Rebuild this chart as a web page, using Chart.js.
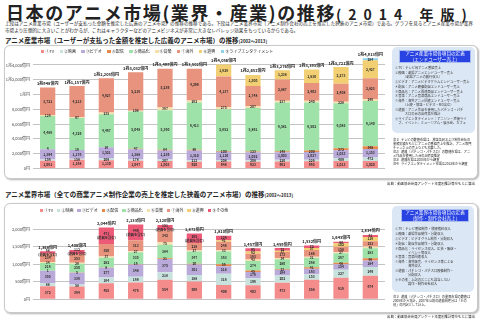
<!DOCTYPE html>
<html lang="ja">
<head>
<meta charset="utf-8">
<title>日本のアニメ市場の推移</title>
<script src="https://cdn.jsdelivr.net/npm/chart.js@4.4.1/dist/chart.umd.min.js"></script>
<style>
  body { margin:0; width:480px; height:325px; position:relative; overflow:hidden; background:#fff;
         font-family:"Noto Sans CJK JP", sans-serif; color:#222; }
  .abs { position:absolute; }
  .title { left:6px; top:2px; font-size:18px; line-height:20px; font-weight:bold; letter-spacing:1.6px; white-space:nowrap; }
  .title span { font-size:14px; letter-spacing:7px; }
  .lead { left:5px; top:20px; font-size:4.6px; line-height:6.5px; white-space:nowrap; }
  .head { left:5px; font-size:6.5px; line-height:8px; font-weight:bold; white-space:nowrap; }
  .head small { font-size:4.4px; font-weight:bold; }
  .panel { border:1px solid #c9c9c9; border-radius:6px; box-shadow:1px 1px 2px rgba(0,0,0,.3); background:#fff; }
  .legend { display:flex; font-size:4px; line-height:5px; white-space:nowrap; }
  .legend span { display:flex; align-items:center; }
  .legend i { display:inline-block; width:3.4px; height:3.4px; margin-right:1px; }
  .defs { background:#dce7f5; border-radius:5px; }
  .defs-head { background:#2843e2; color:#fff; font-size:4.6px; line-height:5.6px; text-align:center; border:1px solid #a8bbf0; }
  .defs-list { font-size:3.25px; line-height:3.9px; color:#333; white-space:nowrap; }
  .defs-list p { margin:0 0 1px 0; }
  .note { font-size:3.15px; line-height:4px; white-space:nowrap; }
  .src { font-size:3.4px; white-space:nowrap; }
</style>
</head>
<body>

<div class="abs title">日本のアニメ市場(業界・産業)の推移<span>(2014 年版)</span></div>
<div class="abs lead">上段はアニメ産業市場（ユーザーが支払った金額を推定した広義のアニメ市場）の推移の推移である。下段はアニメ業界市場（アニメ制作会社の売上を推定した狭義のアニメ市場）である。グラフを見るとアニメ産業市場が業界<br>市場より圧倒的に大きいことがわかるが、これはキャラクターなどのアニメビジネスが非常に大きなレバレッジ効果をもっているからである。</div>

<div class="abs head" style="top:35.5px">アニメ産業市場（ユーザーが支払った金額を推定した広義のアニメ市場）の推移<small>[2002〜2013]</small></div>
<div class="abs panel" style="left:4px;top:45px;width:472px;height:132px"></div>
<canvas id="sangyo" class="abs" width="385" height="132" style="left:5px;top:46px"></canvas>
<div id="legendTop" class="abs legend" style="left:41px;top:49px;gap:5.5px"></div>

<div class="abs defs" style="left:392px;top:47px;width:83px;height:86px"></div>
<div class="abs defs-head" style="left:399px;top:50px;width:70px">アニメ産業市場各項目の定義<br>（エンドユーザー売上）</div>
<div class="abs defs-list" style="left:395px;top:66px">
  <p>①TV：テレビ局アニメ番組売上</p>
  <p>②映画：劇場アニメエンドユーザー売上<br>　　　（劇場アニメの興行収入）</p>
  <p>③ビデオ：アニメビデオグラムエンドユーザー売上</p>
  <p>④配信：アニメ映像配信エンドユーザー売上</p>
  <p>⑤商品化：アニメ関連商品エンドユーザー売上</p>
  <p>⑥音楽：アニメ音楽商品エンドユーザー売上</p>
  <p>⑦海外：海外アニメ関連エンドユーザー売上<br>　　　（上映・放送・ビデオ・MD含む）</p>
  <p>⑧遊興：アニメ作品を使用したパチンコ・パチ<br>　　　スロの台の出荷高を推計</p>
  <p>⑨ライブエンタテイメント：アニソン・声優ライ<br>　ブ、イベント、ミュージアム・展示会、カフェ</p>
</div>
<div class="abs note" style="left:393px;top:138px">
  注1）テレビの数値市場は、放送各局および制作会社の<br>業務実績をもとにアニメの番組売上を推計。アニメ専門<br>チャンネルの売上なども加算した。<br>
  注2）遊興（パチンコ・パチスロ）の数値市場は、アニ<br>メ作品を使用した台の出荷高推定<br>
  注3）遊興市場は2008年から調査<br>
  注4）ライブエンタテイメント市場は2013年から調査
</div>
<div class="abs src" style="right:5px;top:181px">出典：動画協会会員アンケート年度別推計等をもとに算出</div>

<div class="abs head" style="top:190px">アニメ業界市場（全ての商業アニメ制作企業の売上を推定した狭義のアニメ市場）の推移<small>[2002〜2013]</small></div>
<div class="abs panel" style="left:4px;top:203px;width:472px;height:108px"></div>
<canvas id="gyokai" class="abs" width="385" height="106" style="left:5px;top:204px"></canvas>
<div id="legendBottom" class="abs legend" style="left:40px;top:208px;gap:4px"></div>

<div class="abs defs" style="left:392px;top:206px;width:82px;height:86px"></div>
<div class="abs defs-head" style="left:401px;top:209px;width:66px">アニメ業界市場各項目の定義<br>（製作・制作会社売上）</div>
<div class="abs defs-list" style="left:395px;top:227px">
  <p>①TV：テレビ番組制作・放映権料収入</p>
  <p>②映画：劇場作品制作・分配収入</p>
  <p>③ビデオ：ビデオグラム制作・分配収入</p>
  <p>④配信：配信作品制作・分配収入</p>
  <p>⑤商品化：ライセンス収入、広告・販促・<br>　　　　イベント等収入</p>
  <p>⑥音楽：音楽関連収入</p>
  <p>⑦海外：海外販売、ライセンス等による<br>　　　　海外収入</p>
  <p>⑧遊興：パチンコ・パチスロ映像制作・<br>　　　　分配収入</p>
  <p>⑨その他：上記のどこにも該当しない<br>　　　　製作・制作会社収入</p>
</div>
<div class="abs note" style="left:393px;top:295px">
  注1）遊興（パチンコ・パチスロ）の業界市場の数値は<br>2008年から集計。2007年以前の遊興関連分は「その<br>他」の内訳として計上。
</div>
<div class="abs src" style="right:5px;top:314px">出典：動画協会会員アンケート年度別推計等をもとに算出</div>

<script>
Chart.defaults.font.family = '"Noto Sans CJK JP", sans-serif';

const years = ['2002', '2003', '2004', '2005', '2006', '2007', '2008', '2009', '2010', '2011', '2012', '2013'];

// アニメ産業市場 (億円)
const sangyoTV       = [1061, 1168, 1130, 1047, 1003,  920,  948,  923,  962,  965, 1013, 1020];
const sangyoMovie    = [ 156,  158,  209,  178,  207,  212,  208,  208,  220,  226,  409,  472];
const sangyoVideo    = [1394, 1176, 1521, 1388, 1239, 1310, 1110, 1052, 1003, 1027, 1033, 1153];
const sangyoNet      = [   4,   16,   16,   47,   84,   86,  100,  123,  148,  200,  272,  348];
const sangyoMerch    = [4486, 4329, 4467, 5048, 5360, 6413, 5652, 5891, 6581, 6502, 6085, 6140];
const sangyoMusic    = [ 126,   97,  235,  108,  367,  262,  275,  207,  237,  240,  228,  246];
const sangyoOverseas = [3721, 4213, 4627, 5216, 5239, 4299, 4137, 2748, 2887, 2403, 2408, 2823];
const sangyoPachinko = [   0,    0,    0,    0,    0,    0, 1626, 1500, 1238, 1830, 2273, 2427];
const sangyoLive     = [   0,    0,    0,    0,    0,    0,    0,    0,    0,    0,    0,  284];

// アニメ業界市場 (億円)
const gyokaiTV       = [372, 364, 455, 476, 554, 506, 409, 403, 473, 558, 616, 674];
const gyokaiMovie    = [ 88,  58, 164, 169, 218, 188, 316, 196, 202, 153, 227, 249];
const gyokaiVideo    = [355, 336, 277, 348, 375, 301, 218, 176, 164, 163, 154, 184];
const gyokaiNet      = [  1,   5,   8,  16,  21,  20,  56,  45,  23,  41,  48,  66];
const gyokaiMerch    = [216, 250, 282, 335, 384, 347, 363, 274, 280, 268, 267, 283];
const gyokaiMusic    = [ 34,  28,  37,  27,  75,  27,  33,  43,  34,  31,  27,  48];
const gyokaiOverseas = [234, 253, 350, 313, 342, 218, 248, 163, 173, 188, 158, 153];
const gyokaiPachinko = [  0,   0,   0,   0,   0,   0,  41,  62,  37,  57, 102, 116];
const gyokaiOther    = [ 68, 112, 471, 449, 151, 265, 126,  95,  73,  73,  44,  61];

const sangyoTicks = [0, 2000, 4000, 6000, 8000, 10000, 12000, 14000];
const gyokaiTicks = [0, 500, 1000, 1500, 2000];

const sangyoNames = ['①TV', '②映画', '③ビデオ', '④配信', '⑤商品化', '⑥音楽', '⑦海外', '⑧遊興', '⑨ライブエンタテイメント'];
const gyokaiNames = ['①TV', '②映画', '③ビデオ', '④配信', '⑤商品化', '⑥音楽', '⑦海外', '⑧遊興', '⑨その他'];
const sangyoColors = ['#f48c8c', '#c8e2dd', '#b9aad9', '#e7874b', '#9fe2a9', '#f5e1ac', '#e8937d', '#f1cf72', '#8ed3ea'];
const gyokaiColors = ['#f48c8c', '#c8e2dd', '#b9aad9', '#e7874b', '#9fe2a9', '#f5e1ac', '#e8937d', '#f1cf72', '#ec5a78'];

const sangyoSeries = [sangyoTV, sangyoMovie, sangyoVideo, sangyoNet, sangyoMerch, sangyoMusic, sangyoOverseas, sangyoPachinko, sangyoLive];
const gyokaiSeries = [gyokaiTV, gyokaiMovie, gyokaiVideo, gyokaiNet, gyokaiMerch, gyokaiMusic, gyokaiOverseas, gyokaiPachinko, gyokaiOther];

const comma = v => v.toLocaleString('en-US');

// 1兆2,000億円 のような表記
function yen(v) {
  if (v === 0) return '0円';
  if (v >= 10000) {
    const rest = v % 10000;
    return Math.floor(v / 10000) + '兆' + (rest ? comma(rest) + '億円' : '円');
  }
  return comma(v) + '億円';
}

// 各セグメントの数値と棒の合計を描く
const barLabels = {
  id: 'barLabels',
  afterDatasetsDraw(chart, args, opts) {
    const ctx = chart.ctx;
    const y = chart.scales.y;
    ctx.save();
    ctx.textAlign = 'center';
    ctx.textBaseline = 'middle';
    ctx.fillStyle = '#2a2a2a';
    chart.data.datasets.forEach((ds, i) => {
      chart.getDatasetMeta(i).data.forEach((bar, j) => {
        const v = ds.data[j];
        if (!v) return;
        const mid = (bar.y + bar.base) / 2;
        ctx.font = 'bold 3.3px "Noto Sans CJK JP"';
        if (opts.note && opts.note(i, j)) {
          ctx.fillText(comma(v), bar.x, mid - 2);
          ctx.fillText(opts.noteText, bar.x, mid + 2);
        } else {
          ctx.fillText(comma(v), bar.x, mid);
        }
      });
    });
    const bars = chart.getDatasetMeta(0).data;
    ctx.font = 'bold 4px "Noto Sans CJK JP"';
    ctx.fillStyle = '#222';
    opts.totals.forEach((t, j) => {
      ctx.fillText(opts.format(t), bars[j].x, y.getPixelForValue(t) - 4);
    });
    ctx.restore();
  }
};

function makeDatasets(names, series, colors) {
  return series.map((data, i) => ({
    label: names[i],
    data: data,
    backgroundColor: colors[i],
    borderWidth: 0,
    barPercentage: 0.52,
    categoryPercentage: 1
  }));
}

function sumUp(series) {
  return years.map((_, j) => series.reduce((s, d) => s + d[j], 0));
}

function makeLegend(el, names, colors) {
  names.forEach((n, i) => {
    const s = document.createElement('span');
    s.innerHTML = '<i style="background:' + colors[i] + '"></i>' + n;
    el.appendChild(s);
  });
}

function drawChart(id, names, series, colors, opt) {
  return new Chart(document.getElementById(id), {
    type: 'bar',
    data: { labels: years, datasets: makeDatasets(names, series, colors) },
    plugins: [barLabels],
    options: {
      responsive: false,
      animation: false,
      layout: { padding: { top: opt.padTop, right: 5, bottom: opt.padBottom, left: 0 } },
      plugins: {
        legend: { display: false },
        tooltip: { enabled: false },
        barLabels: {
          totals: sumUp(series),
          format: opt.totalFormat,
          note: opt.note,
          noteText: '(遊興を含む)'
        }
      },
      scales: {
        x: {
          stacked: true,
          grid: { display: false },
          border: { display: false },
          ticks: { color: '#222', padding: opt.xPad, font: { size: 5, weight: 'bold' } },
          afterFit(s) { s.height = 9; }
        },
        y: {
          stacked: true,
          min: 0,
          max: opt.max,
          afterBuildTicks(s) { s.ticks = opt.ticks.map(v => ({ value: v })); },
          grid: { color: '#c4c4c4', lineWidth: 1, drawTicks: false },
          border: { display: false },
          ticks: { color: '#444', padding: 3, font: { size: 4 }, callback: v => yen(v) },
          afterFit(s) { s.width = 28; }
        }
      }
    }
  });
}

makeLegend(document.getElementById('legendTop'), sangyoNames, sangyoColors);
makeLegend(document.getElementById('legendBottom'), gyokaiNames, gyokaiColors);

drawChart('sangyo', sangyoNames, sangyoSeries, sangyoColors, {
  max: 15000, ticks: sangyoTicks, padTop: 11.6, padBottom: 0.5, xPad: 3,
  totalFormat: yen
});

drawChart('gyokai', gyokaiNames, gyokaiSeries, gyokaiColors, {
  max: 2300, ticks: gyokaiTicks, padTop: 14.6, padBottom: 1.7, xPad: 4,
  totalFormat: v => comma(v) + '億円',
  note: (i, j) => i === 8 && j < 6
});
</script>
</body>
</html>
